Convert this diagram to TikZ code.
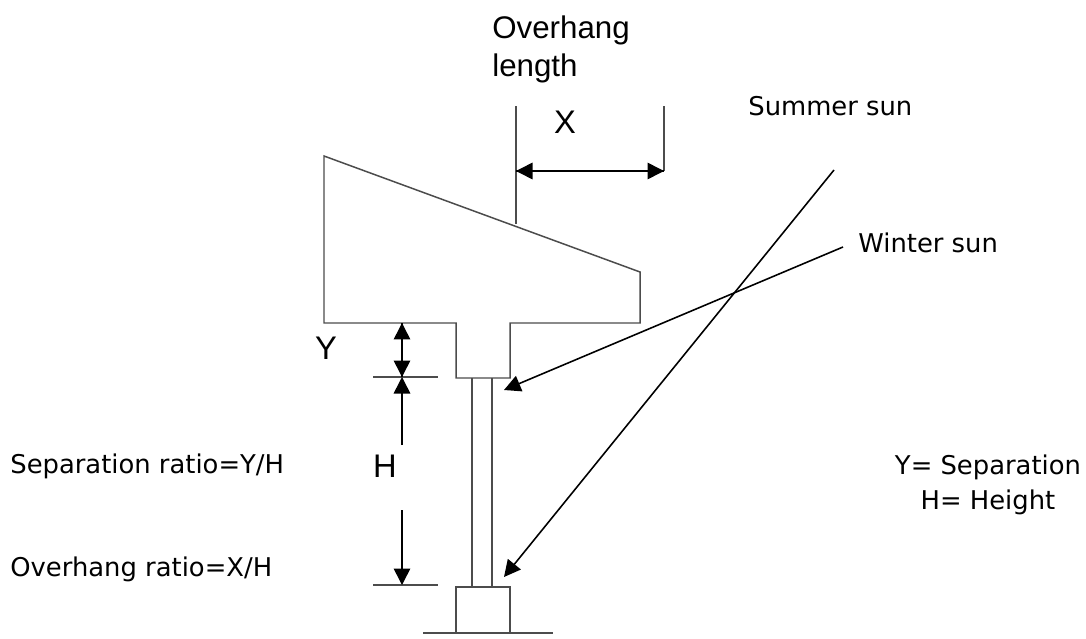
\documentclass[tikz,border=0pt]{standalone}
\usepackage{fontspec}
\setmainfont{Liberation Sans}
\newfontfamily\labelfont{DejaVu Sans}
\usetikzlibrary{arrows.meta}
\tikzset{
    pline/.style={line width=0.85pt, draw=black!70},
    dimarrow/.style={line width=0.9pt, draw=black, -{Triangle[length=0.33cm, width=0.33cm]}},
    bigtext/.style={font=\fontsize{17.8}{22}\selectfont, inner sep=0pt, align=left},
    lettertext/.style={font=\fontsize{18.6}{22}\selectfont, inner sep=0pt},
    smalltext/.style={font=\labelfont\fontsize{14.7}{20}\selectfont, inner sep=0pt, align=center}
}
\begin{document}
\begin{tikzpicture}[x=0.02cm, y=-0.02cm]
    \useasboundingbox (0,0) rectangle (1086,639);

    % roof and column
    \draw[pline] (324,156) -- (640,272) -- (640,323) -- (510,323) -- (510,378) -- (456,378) -- (456,323) -- (324,323) -- cycle;
    \draw[pline] (472,378) -- (472,587);
    \draw[pline] (492,378) -- (492,587);
    \draw[pline] (456,633) -- (456,587) -- (510,587) -- (510,633);
    \draw[pline] (423,633) -- (553,633);

    % dimension lines
    \coordinate (RoofBase) at (402,323);
    \coordinate (TickTop) at (402,377);
    \coordinate (TickBottom) at (402,585);
    \coordinate (HUp) at (402,445);
    \coordinate (HDown) at (402,510);
    \draw[pline] (373,377) -- (438,377);
    \draw[pline] (373,585) -- (438,585);
    \draw[dimarrow] (TickTop) -- (RoofBase);
    \draw[dimarrow] (RoofBase) -- (TickTop);
    \draw[dimarrow] (HUp) -- (TickTop);
    \draw[dimarrow] (HDown) -- (TickBottom);

    \coordinate (XLeft) at (516,171);
    \coordinate (XRight) at (664,171);
    \draw[pline] (516,106) -- (516,224);
    \draw[pline] (664,106) -- (664,171);
    \draw[dimarrow] (XLeft) -- (XRight);
    \draw[dimarrow] (XRight) -- (XLeft);

    % sun rays
    \coordinate (WinterStart) at (843,247);
    \coordinate (WinterEnd) at (504,390);
    \coordinate (SummerStart) at (834,170);
    \coordinate (SummerEnd) at (504,577);
    \draw[dimarrow] (WinterStart) -- (WinterEnd);
    \draw[dimarrow] (SummerStart) -- (SummerEnd);

    % labels
    \node[bigtext, anchor=north west] (OverhangLabel) at (492,15) {Overhang\\length};
    \node[lettertext] (XLabel) at (565,122) {X};
    \node[lettertext] (YLabel) at (326,348) {Y};
    \node[lettertext] (HLabel) at (385,466) {H};
    \node[smalltext, anchor=west] (SummerLabel) at (748,106) {Summer sun};
    \node[smalltext, anchor=west] (WinterLabel) at (858,243) {Winter sun};
    \node[smalltext, anchor=west] (SepLabel) at (10,466) {Separation ratio=Y/H};
    \node[smalltext, anchor=west] (RatioLabel) at (10,569) {Overhang ratio=X/H};
    \node[smalltext] (KeyLabel) at (988,485) {Y= Separation\\H= Height};
\end{tikzpicture}
\end{document}
